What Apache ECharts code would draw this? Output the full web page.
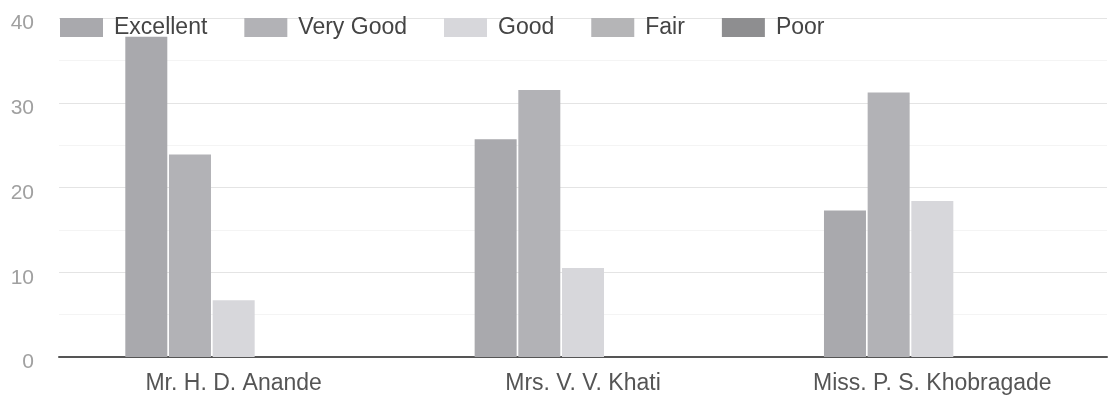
<!DOCTYPE html>
<html>
<head>
<meta charset="utf-8">
<script src="https://cdn.jsdelivr.net/npm/echarts@6/dist/echarts.min.js"></script>
<style>
  html, body { margin: 0; padding: 0; background: #fff; }
  #chart { width: 1110px; height: 403px; }
</style>
</head>
<body>
<div id="chart"></div>
<script>
// teachers on the x axis
const categories = ["Mr. H. D. Anande", "Mrs. V. V. Khati", "Miss. P. S. Khobragade"];

// ratings
const excellent = [37.8, 25.7, 17.3];
const veryGood = [23.9, 31.5, 31.2];
const good = [6.7, 10.5, 18.4];
const fair = [0, 0, 0];
const poor = [0, 0, 0];

const yTicks = [0, 10, 20, 30, 40];

const colors = ["#a9a9ad", "#b2b2b6", "#d7d7db", "#b5b5b7", "#8e8e90"];

const chart = echarts.init(document.getElementById("chart"), null, { renderer: "canvas" });

const makeSeries = (name, data) => ({
  name: name,
  type: "bar",
  data: data,
  barWidth: 42,
  barGap: "4%",
});

chart.setOption({
  backgroundColor: "#fff",
  color: colors,
  animation: false,
  grid: {
    left: 59,
    right: 3,
    top: 18,
    bottom: 46,
  },
  legend: {
    left: 55,
    top: 11,
    itemWidth: 43,
    itemHeight: 19,
    itemGap: 37,
    icon: "rect",
    textStyle: {
      fontFamily: "Liberation Sans, Arial, sans-serif",
      fontSize: 23,
      color: "#444",
      padding: [0, 0, 0, 6],
    },
  },
  xAxis: {
    type: "category",
    data: categories,
    axisTick: { show: false },
    axisLine: { lineStyle: { color: "#555", width: 2 } },
    axisLabel: {
      margin: 15,
      fontFamily: "Liberation Sans, Arial, sans-serif",
      fontSize: 23,
      color: "#555",
    },
  },
  yAxis: {
    type: "value",
    min: yTicks[0],
    max: yTicks[yTicks.length - 1],
    interval: 10,
    axisLine: { show: false },
    axisTick: { show: false },
    axisLabel: {
      margin: 25,
      verticalAlign: "top",
      lineHeight: 11,
      fontFamily: "Liberation Sans, Arial, sans-serif",
      fontSize: 21,
      color: "#a0a0a0",
    },
    splitLine: { lineStyle: { color: "#e4e4e4", width: 1 } },
    minorTick: { show: false, splitNumber: 2 },
    minorSplitLine: { show: true, lineStyle: { color: "#f4f4f4", width: 1 } },
  },
  series: [
    makeSeries("Excellent", excellent),
    makeSeries("Very Good", veryGood),
    makeSeries("Good", good),
    makeSeries("Fair", fair),
    makeSeries("Poor", poor),
  ],
});
</script>
</body>
</html>
